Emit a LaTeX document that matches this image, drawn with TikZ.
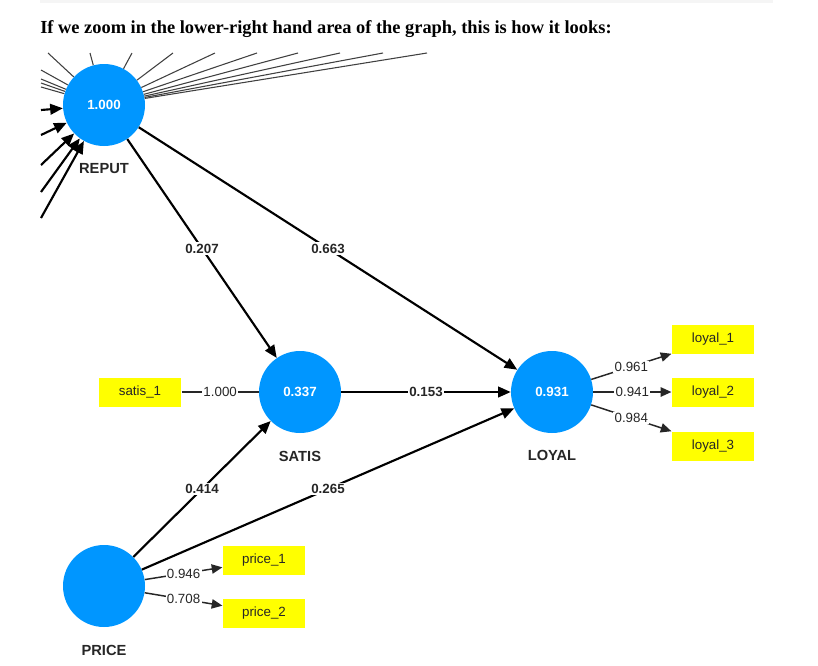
\documentclass[tikz,border=0pt]{standalone}
\usepackage{fontspec}
\setmainfont{Liberation Serif}
\newfontfamily\arialfont{Liberation Sans}
\usetikzlibrary{arrows.meta}

\definecolor{lvblue}{RGB}{0,150,255}
\definecolor{indyellow}{RGB}{255,255,0}

\begin{document}
\begin{tikzpicture}[
x=0.75pt, y=-0.75pt,
    >={Triangle[length=9.5pt,width=8pt]},
    lv/.style={circle, fill=lvblue, minimum size=61.5pt, inner sep=0pt, text=white, font=\arialfont\bfseries\fontsize{10}{12}\selectfont},
    lvname/.style={font=\arialfont\bfseries\fontsize{11}{13}\selectfont, text=black!85},
    ind/.style={fill=indyellow, minimum width=62pt, minimum height=21.75pt, inner sep=0pt, font=\arialfont\fontsize{10}{12}\selectfont, text=black!85},
    coef/.style={fill=white, inner sep=1pt, font=\arialfont\bfseries\fontsize{10}{12}\selectfont, text=black!85},
    load/.style={fill=white, inner sep=1pt, font=\arialfont\fontsize{10}{12}\selectfont, text=black!85},
    strc/.style={line width=1.6pt},
    loadline/.style={line width=1.1pt, black!85, -{Triangle[length=8pt,width=7pt]}},
    fanline/.style={line width=0.8pt, black!75}
]
\useasboundingbox (0,0) rectangle (818,665);

% 顶部灰条和标题
\fill[black!4] (40,0) rectangle (773,3);
\node[anchor=base west, inner sep=0pt, font=\bfseries\fontsize{13.8}{16}\selectfont] (title) at (40,33)
    {If we zoom in the lower-right hand area of the graph, this is how it looks:};

% 四个潜变量
\node[lv] (REPUT) at (104,105) {1.000};
\node[lv] (SATIS) at (300,392) {0.337};
\node[lv] (LOYAL) at (552,392) {0.931};
\node[lv] (PRICE) at (104,586) {};

\node[lvname] (REPUTname) at (104,169) {REPUT};
\node[lvname] (SATISname) at (300,456) {SATIS};
\node[lvname] (LOYALname) at (552,455) {LOYAL};
\node[lvname] (PRICEname) at (104,650) {PRICE};

% 指标
\node[ind] (satis1) at (140,392) {satis\_1};
\node[ind] (loyal1) at (713,339) {loyal\_1};
\node[ind] (loyal2) at (713,392) {loyal\_2};
\node[ind] (loyal3) at (713,446) {loyal\_3};
\node[ind] (price1) at (264,560) {price\_1};
\node[ind] (price2) at (264,613) {price\_2};

% 被截断的线 (REPUT 左上)
\foreach \x [count=\i] in {48,90,132,173,215,257,298,340,383,427}{
    \coordinate (t\i) at (\x,53);
    \draw[fanline] (REPUT) -- (t\i);
}
\foreach \y [count=\i] in {70,79,83,87}{
    \coordinate (l\i) at (41,\y);
    \draw[fanline] (REPUT) -- (l\i);
}
\foreach \y [count=\i] in {110,135,165,192,218}{
    \coordinate (a\i) at (41,\y);
    \draw[->,strc] (a\i) -- (REPUT);
}

% 路径系数
\draw[->,strc] (REPUT) -- node[coef] {0.207} (SATIS);
\draw[->,strc] (REPUT) -- node[coef] {0.663} (LOYAL);
\draw[->,strc] (SATIS) -- node[coef] {0.153} (LOYAL);
\draw[->,strc] (PRICE) -- node[coef] {0.414} (SATIS);
\draw[->,strc] (PRICE) -- node[coef] {0.265} (LOYAL);

% 载荷
\draw[line width=1.1pt, black!85] (satis1) -- node[load] {1.000} (SATIS);
\draw[loadline] (LOYAL) -- node[load] {0.961} (loyal1.south west);
\draw[loadline] (LOYAL) -- node[load] {0.941} (loyal2);
\draw[loadline] (LOYAL) -- node[load] {0.984} (loyal3.north west);
\draw[loadline] (PRICE) -- node[load] {0.946} (price1.190);
\draw[loadline] (PRICE) -- node[load] {0.708} (price2.170);

\end{tikzpicture}
\end{document}
